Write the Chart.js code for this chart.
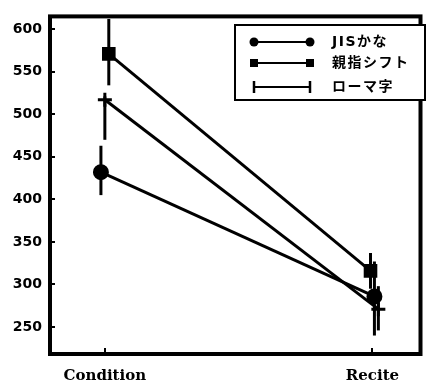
<!DOCTYPE html>
<html>
<head>
<meta charset="utf-8">
<script src="https://cdn.jsdelivr.net/npm/chart.js@4/dist/chart.umd.min.js"></script>
<style>
html,body{margin:0;padding:0;background:#fff;}
#wrap{width:431px;height:383px;}
</style>
</head>
<body>
<div id="wrap"><canvas id="c" width="431" height="383"></canvas></div>
<script>
// ---- data ----
const categories = ['Condition', 'Recite'];
const seriesNames = ['JISかな', '親指シフト', 'ローマ字'];
const jisMeans   = [432, 286];
const jisErrHigh = [463, 327];
const jisErrLow  = [405, 240];
const oyaMeans   = [571, 316];
const oyaErrHigh = [612, 337];
const oyaErrLow  = [534, 295];
const romMeans   = [517, 271];
const romErrHigh = [521, 298];
const romErrLow  = [470, 246];
const jisJitter = [-0.0147, 0.0073];
const oyaJitter = [0.0147, -0.0073];
const romJitter = [0.0, 0.022];
const yTickValues = [250, 300, 350, 400, 450, 500, 550, 600];

function pts(means, jit, hi, lo) {
  return means.map((v, i) => ({x: i + jit[i], y: v, hi: hi[i], lo: lo[i]}));
}

const styles = [
  {pointStyle: 'circle', pointRadius: 6.5},
  {pointStyle: 'rect', pointRadius: 7.5},
  {pointStyle: 'cross', pointRadius: 7}
];

const datasets = [
  pts(jisMeans, jisJitter, jisErrHigh, jisErrLow),
  pts(oyaMeans, oyaJitter, oyaErrHigh, oyaErrLow),
  pts(romMeans, romJitter, romErrHigh, romErrLow)
].map((d, i) => ({
  label: seriesNames[i],
  data: d,
  showLine: true,
  borderColor: '#000',
  backgroundColor: '#000',
  borderWidth: 3,
  pointBorderWidth: 3,
  pointBorderColor: '#000',
  pointBackgroundColor: '#000',
  pointStyle: styles[i].pointStyle,
  pointRadius: styles[i].pointRadius,
  tension: 0
}));

const errorBars = {
  id: 'errorBars',
  beforeDatasetsDraw(chart) {
    const ctx = chart.ctx, xs = chart.scales.x, ys = chart.scales.y;
    ctx.save();
    ctx.strokeStyle = '#000';
    ctx.lineWidth = 3;
    chart.data.datasets.forEach(ds => {
      ds.data.forEach(p => {
        const px = xs.getPixelForValue(p.x);
        ctx.beginPath();
        ctx.moveTo(px, ys.getPixelForValue(p.hi));
        ctx.lineTo(px, ys.getPixelForValue(p.lo));
        ctx.stroke();
      });
    });
    ctx.restore();
  }
};

const frame = {
  id: 'frame',
  afterDatasetsDraw(chart) {
    const ctx = chart.ctx, a = chart.chartArea, xs = chart.scales.x, ys = chart.scales.y;
    ctx.save();
    ctx.strokeStyle = '#000';
    ctx.lineWidth = 4;
    ctx.strokeRect(a.left, a.top, a.right - a.left, a.bottom - a.top);
    ctx.lineWidth = 2;
    yTickValues.forEach(v => {
      const py = Math.round(ys.getPixelForValue(v));
      ctx.beginPath(); ctx.moveTo(a.left, py); ctx.lineTo(a.left + 5, py); ctx.stroke();
    });
    [0, 1].forEach(v => {
      const px = Math.round(xs.getPixelForValue(v));
      ctx.beginPath(); ctx.moveTo(px, a.bottom); ctx.lineTo(px, a.bottom - 6); ctx.stroke();
    });
    ctx.restore();
  }
};

const legendBox = {
  id: 'legendBox',
  afterDraw(chart) {
    const ctx = chart.ctx;
    const bx = 235, by = 25, bw = 190, bh = 75;
    ctx.save();
    ctx.fillStyle = '#fff';
    ctx.fillRect(bx, by, bw, bh);
    ctx.strokeStyle = '#000';
    ctx.lineWidth = 2;
    ctx.strokeRect(bx, by, bw, bh);
    const rows = [42, 63, 87];
    const x1 = 254, x2 = 310;
    ctx.fillStyle = '#000';
    rows.forEach((ry, i) => {
      ctx.lineWidth = 2;
      ctx.beginPath(); ctx.moveTo(x1, ry); ctx.lineTo(x2, ry); ctx.stroke();
      [x1, x2].forEach(mx => {
        if (i === 0) {
          ctx.beginPath(); ctx.arc(mx, ry, 4.5, 0, Math.PI * 2); ctx.fill();
        } else if (i === 1) {
          ctx.fillRect(mx - 4, ry - 4, 8, 8);
        } else {
          ctx.lineWidth = 2.5;
          ctx.beginPath(); ctx.moveTo(mx, ry - 6); ctx.lineTo(mx, ry + 6); ctx.stroke();
        }
      });
      ctx.font = 'bold 14px "DejaVu Sans", "Noto Sans CJK JP", sans-serif';
      ctx.textBaseline = 'middle';
      ctx.textAlign = 'left';
      try { ctx.letterSpacing = '1.5px'; } catch (e) {}
      ctx.fillText(seriesNames[i], 332, ry);
    });
    ctx.restore();
  }
};

new Chart(document.getElementById('c'), {
  type: 'scatter',
  data: {datasets},
  plugins: [errorBars, frame, legendBox],
  options: {
    responsive: false,
    animation: false,
    devicePixelRatio: 1,
    layout: {padding: {top: 12, right: 3, left: 0, bottom: 0}},
    plugins: {legend: {display: false}, tooltip: {enabled: false}},
    scales: {
      x: {
        type: 'linear',
        min: -0.205,
        max: 1.1795,
        grid: {display: false, drawTicks: false},
        border: {display: false},
        afterBuildTicks: s => { s.ticks = [{value: 0}, {value: 1}]; },
        afterFit: s => { s.height = 29; },
        ticks: {
          color: '#000',
          padding: 15,
          maxRotation: 0,
          font: {family: '"DejaVu Serif", serif', weight: 'bold', size: 15, lineHeight: 1},
          callback: v => categories[Math.round(v)]
        }
      },
      y: {
        type: 'linear',
        min: 218.3,
        max: 615,
        grid: {display: false, drawTicks: false},
        border: {display: false},
        afterBuildTicks: s => { s.ticks = yTickValues.map(v => ({value: v})); },
        afterFit: s => { s.width = 50; },
        ticks: {
          color: '#000',
          padding: 8,
          font: {family: '"DejaVu Sans", sans-serif', weight: 'bold', size: 14}
        }
      }
    }
  }
});
</script>
</body>
</html>
